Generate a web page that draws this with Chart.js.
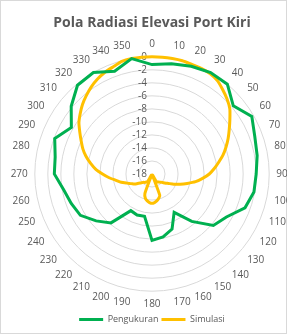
<!DOCTYPE html>
<html>
<head>
<meta charset="utf-8">
<script src="https://cdn.jsdelivr.net/npm/chart.js@4/dist/chart.umd.min.js"></script>
<style>
	html, body { margin: 0; padding: 0; background: #fff; }
	body { width: 287px; height: 334px; overflow: hidden; position: relative; }
	#frame { position: absolute; left: 0; top: 0; width: 285px; height: 332px; border: 1px solid #d9d9d9; }
	#wrap { position: absolute; left: 2px; top: 0; width: 300px; height: 334px; }
</style>
</head>
<body>
<div id="frame"></div>
<div id="wrap"><canvas id="polar"></canvas></div>
<script>
// sudut (derajat), tiap 5°; label hanya ditulis tiap 10°
const angles = [0, 5, 10, 15, 20, 25, 30, 35, 40, 45, 50, 55, 60, 65, 70, 75, 80, 85,
	90, 95, 100, 105, 110, 115, 120, 125, 130, 135, 140, 145, 150, 155, 160, 165, 170, 175,
	180, 185, 190, 195, 200, 205, 210, 215, 220, 225, 230, 235, 240, 245, 250, 255, 260, 265,
	270, 275, 280, 285, 290, 295, 300, 305, 310, 315, 320, 325, 330, 335, 340, 345, 350, 355];

// hasil pengukuran (dB), tiap 10° (0, 10, ..., 350)
const pengukuran = [-1.2, -0.8, -0.4, 0, 0, -1.7, -0.3, -1.2, -1.6, -2.0, -2.1, -2.8, -4.8, -5.7, -8.5, -11.2, -9.0, -8.2,
	-7.8, -11.4, -11.3, -11.5, -8.2, -6.8, -5.3, -4.8, -4.2, -3.0, -2.9, -2.1, -3.7, -1.8, -0.2, 0, -1.2, 0];

// hasil simulasi (dB), tiap 5°
const simulasi = [0, 0, 0, 0, -0.1, -0.1, -0.2, -0.5, -1.1, -1.7, -2.4, -3.4, -4.3, -5.1, -5.9, -6.7, -7.6, -8.4,
	-9.2, -10.2, -11.2, -12.4, -13.4, -14.3, -15.1, -15.6, -16.0, -16.2, -16.4, -16.5, -16.6, -17.8, -14.5, -14.1, -13.8, -13.6,
	-13.5, -13.6, -13.8, -14.1, -14.8, -17.8, -16.6, -16.5, -16.3, -16.2, -15.9, -15.5, -14.9, -14.5, -13.9, -13.1, -12.4, -11.4,
	-10.4, -9.3, -8.4, -7.5, -6.7, -6.0, -5.2, -4.3, -3.6, -2.9, -2.3, -1.7, -1.2, -0.8, -0.5, -0.1, 0, 0];

// label sumbu radial
const tickValues = [0, -2, -4, -6, -8, -10, -12, -14, -16, -18];

const GREY = '#595959';
const FONT = "'Open Sans', 'Liberation Sans', sans-serif";

// data pengukuran hanya ada di sudut kelipatan 10°, sisanya kosong (disambung spanGaps)
const pengukuranFull = pengukuran.flatMap(v => [v, null]);

// label nilai di kiri sumbu vertikal (rata kanan), seperti Excel
const tickLabelPlugin = {
	id: 'tickLabels',
	beforeDatasetsDraw(chart) {
		const s = chart.scales.r;
		const ctx = chart.ctx;
		ctx.save();
		ctx.font = '10px ' + FONT;
		ctx.fillStyle = GREY;
		ctx.textAlign = 'right';
		ctx.textBaseline = 'middle';
		tickValues.forEach(v => {
			const d = s.getDistanceFromCenterForValue(v);
			ctx.fillText(String(v), s.xCenter - 5, s.yCenter - d);
		});
		ctx.restore();
	}
};

new Chart(document.getElementById('polar'), {
	type: 'radar',
	data: {
		labels: angles.map(a => (a % 10 === 0 ? String(a) : '')),
		datasets: [
			{
				label: 'Pengukuran',
				data: pengukuranFull,
				borderColor: '#00b050',
				backgroundColor: '#00b050',
				borderWidth: 3,
				pointRadius: 0,
				fill: false,
				spanGaps: true,
				tension: 0
			},
			{
				label: 'Simulasi',
				data: simulasi,
				borderColor: '#ffc000',
				backgroundColor: '#ffc000',
				borderWidth: 3,
				pointRadius: 0,
				fill: false,
				tension: 0.2
			}
		]
	},
	options: {
		responsive: true,
		maintainAspectRatio: false,
		animation: false,
		layout: { padding: { left: 4, right: 4, top: 0, bottom: 0 } },
		scales: {
			r: {
				min: -18,
				max: 0,
				ticks: { stepSize: 2, display: false },
				grid: { color: '#d9d9d9', lineWidth: 1, circular: true },
				angleLines: { display: false },
				pointLabels: {
					color: GREY,
					font: { size: 10, family: FONT },
					padding: 7
				}
			}
		},
		plugins: {
			title: {
				display: true,
				text: 'Pola Radiasi Elevasi Port Kiri',
				color: GREY,
				font: { size: 14, weight: 'bold', family: FONT },
				padding: { top: 15, bottom: 6 }
			},
			legend: {
				position: 'bottom',
				maxHeight: 22,
				labels: {
					color: GREY,
					font: { size: 9, family: FONT },
					usePointStyle: true,
					pointStyle: 'line',
					pointStyleWidth: 24,
					boxHeight: 3,
					padding: 3
				}
			},
			tooltip: { enabled: false }
		}
	},
	plugins: [tickLabelPlugin]
});
</script>
</body>
</html>
